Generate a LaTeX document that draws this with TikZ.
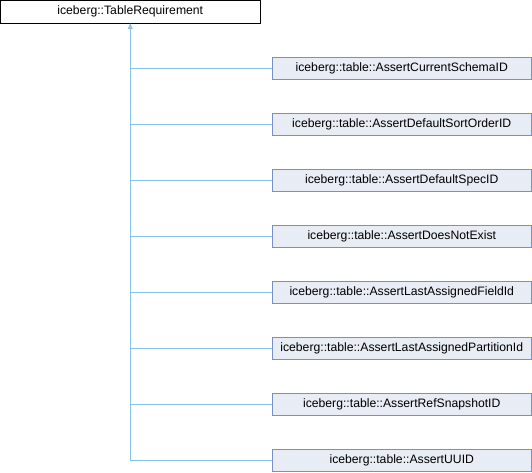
\documentclass[tikz,border=0pt]{standalone}
\usepackage{fontspec}
\setmainfont{Liberation Sans}
\usetikzlibrary{arrows.meta}

\definecolor{edgeblue}{RGB}{137,196,230}
\definecolor{classfill}{RGB}{232,236,245}
\definecolor{classline}{RGB}{122,143,200}

\tikzset{
  baseclass/.style={draw=black, fill=white, minimum width=259.5pt, minimum height=22.5pt, inner sep=0pt, font=\fontsize{12.2}{14}\selectfont},
  derived/.style={draw=classline, fill=classfill, minimum width=259pt, minimum height=22pt, inner sep=0pt, font=\fontsize{12.2}{14}\selectfont},
  inherit/.style={draw=edgeblue, line width=0.9pt}
}

\begin{document}
\begin{tikzpicture}[x=1pt, y=-1pt]
			\useasboundingbox (0,0) rectangle (532,472);
			% base class
			\node[baseclass] (req) at (130.25,11.75) {iceberg::TableRequirement};
			% derived classes
			\node[derived] (schema) at (401.75,68) {iceberg::table::AssertCurrentSchemaID};
			\node[derived] (sortorder) at (401.75,124) {iceberg::table::AssertDefaultSortOrderID};
			\node[derived] (spec) at (401.75,180) {iceberg::table::AssertDefaultSpecID};
			\node[derived] (notexist) at (401.75,236) {iceberg::table::AssertDoesNotExist};
			\node[derived] (fieldid) at (401.75,292) {iceberg::table::AssertLastAssignedFieldId};
			\node[derived] (partid) at (401.75,348) {iceberg::table::AssertLastAssignedPartitionId};
			\node[derived] (snapshot) at (401.75,404) {iceberg::table::AssertRefSnapshotID};
			\node[derived] (uuid) at (401.75,460) {iceberg::table::AssertUUID};
			% trunk with arrow
			\draw [inherit, -{Triangle[length=6pt, width=5pt]}] (req.south |- uuid.west) -- (req.south);
			% branches
			\draw [inherit] (schema.west) -- (req.south |- schema.west);
			\draw [inherit] (sortorder.west) -- (req.south |- sortorder.west);
			\draw [inherit] (spec.west) -- (req.south |- spec.west);
			\draw [inherit] (notexist.west) -- (req.south |- notexist.west);
			\draw [inherit] (fieldid.west) -- (req.south |- fieldid.west);
			\draw [inherit] (partid.west) -- (req.south |- partid.west);
			\draw [inherit] (snapshot.west) -- (req.south |- snapshot.west);
			\draw [inherit] (uuid.west) -- (req.south |- uuid.west);
		\end{tikzpicture}
\end{document}
